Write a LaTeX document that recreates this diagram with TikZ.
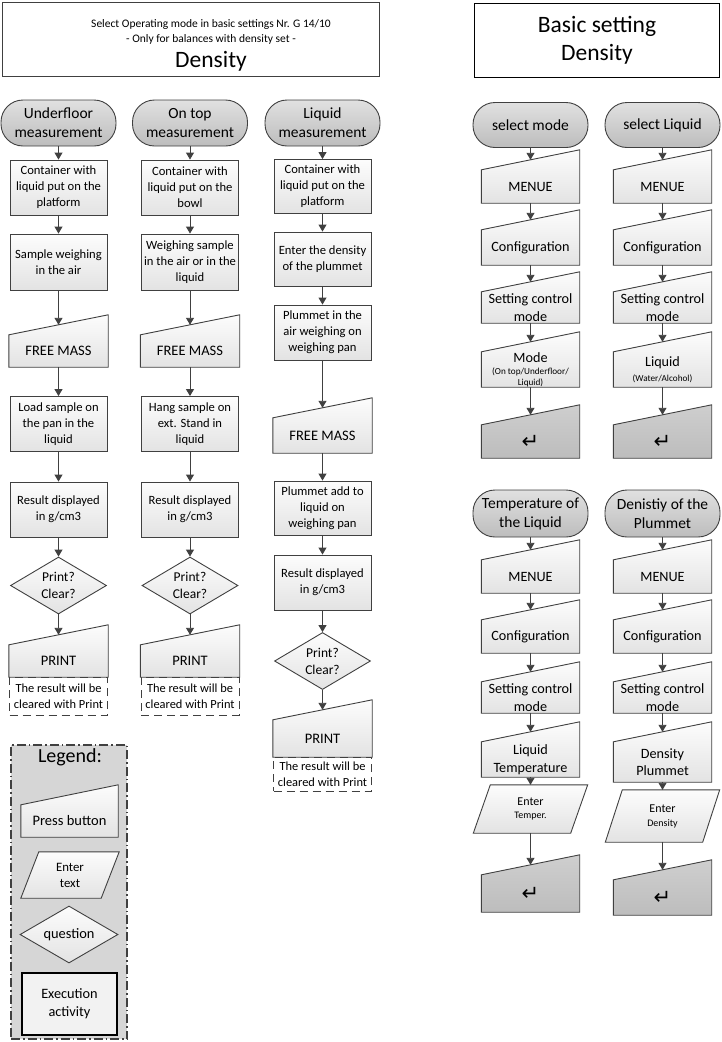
\documentclass[tikz,border=0pt]{standalone}
\usepackage{fontspec}
\setmainfont{Carlito}
\newfontfamily\symfont{DejaVu Sans}
\usetikzlibrary{shapes.geometric,arrows.meta,calc}
\pgfdeclarelayer{bgzero}
\pgfdeclarelayer{background}
\pgfsetlayers{bgzero,background,main}
\definecolor{lc}{HTML}{404040}
\newcommand\fsz[2]{\fontsize{#1}{#2}\selectfont}
\tikzset{
  outline/.style={draw=lc, line width=0.9pt},
  light/.style={top color=black!1, bottom color=black!11},
  dark/.style={top color=black!19, bottom color=black!26},
  termfill/.style={top color=black!12, bottom color=black!26},
  box/.style={outline, light, rectangle, minimum width=97, inner sep=1pt, align=center, font=\fsz{12.6}{16}},
  term/.style={outline, termfill, rectangle, rounded corners=22, minimum width=115, minimum height=46, inner sep=0pt, align=center, font=\fsz{15.5}{19}},
  man/.style={rectangle, minimum width=99, inner sep=0pt, align=center, font=\fsz{14.5}{17}},
  rman/.style={man, minimum width=98, font=\fsz{14.2}{17.5}},
  retsym/.style={font=\symfont\fsz{21}{22}},
  dec/.style={outline, light, diamond, aspect=1.7, minimum width=96, minimum height=57, inner sep=0pt, align=center, font=\fsz{13.5}{17}},
  note/.style={draw=lc, line width=0.9pt, dash pattern=on 8pt off 5pt, rectangle, minimum width=98, inner sep=0pt, align=center, font=\fsz{12.4}{16}},
  para/.style={rectangle, minimum width=97, inner sep=0pt, align=center},
  arr/.style={draw=lc, line width=0.9pt, -{Triangle[length=7pt,width=8pt]}},
}
\begin{document}
\begin{tikzpicture}[x=1pt,y=-1pt]
\useasboundingbox (0,0) rectangle (722,1042);
% headers
\node[draw=lc, line width=1.5pt, minimum width=377, minimum height=74, inner sep=0pt, align=center] (hdrL) at (191,39.5)
  {\fsz{11.5}{15}\hspace*{40pt}\rule{0pt}{20pt}Select Operating mode in basic settings Nr. G 14/10\\[3pt]
   \fsz{11.5}{15}\hspace*{40pt}- Only for balances with density set -\\[6pt]
   \fsz{23.5}{24}\hspace*{40pt}Density};
\node[draw=black, line width=1.8pt, minimum width=245, minimum height=74, inner sep=0pt, align=center, font=\fsz{23.5}{28}] (hdrR) at (597,40.5) {Basic setting\\Density};

% column 1
\node[term] (t1) at (58.5,123) {Underfloor\\measurement};
\node[box, minimum height=55] (c1a) at (58.5,187.5) {Container with\\liquid put on the\\platform};
\node[box, minimum height=56] (c1b) at (58.5,262) {Sample weighing\\in the air};
\node[man, minimum height=32] (c1fm) at (58.5,351) {FREE MASS};
\node[box, minimum height=55] (c1c) at (58.5,424) {Load sample on\\the pan in the\\liquid};
\node[box, minimum height=55] (c1d) at (58.5,509.5) {Result displayed\\in g/cm3};
\node[dec] (c1q) at (58.5,585.5) {Print?\\Clear?};
\node[man, minimum height=32] (c1p) at (58.5,661) {PRINT};
\node[note, minimum height=38] (c1n) at (58.5,696) {The result will be\\cleared with Print};

% column 2
\node[term] (t2) at (190,123) {On top\\measurement};
\node[box, minimum height=55] (c2a) at (190,187.5) {Container with\\liquid put on the\\bowl};
\node[box, minimum height=56] (c2b) at (190,262) {Weighing sample\\in the air or in the\\liquid};
\node[man, minimum height=32] (c2fm) at (190,351) {FREE MASS};
\node[box, minimum height=55] (c2c) at (190,424) {Hang sample on\\ext. Stand in\\liquid};
\node[box, minimum height=55] (c2d) at (190,509.5) {Result displayed\\in g/cm3};
\node[dec] (c2q) at (190,585.5) {Print?\\Clear?};
\node[man, minimum height=32] (c2p) at (190,661) {PRINT};
\node[note, minimum height=38] (c2n) at (190,696) {The result will be\\cleared with Print};

% column 3
\node[term] (t3) at (322.5,123) {Liquid\\measurement};
\node[box, minimum height=54] (c3a) at (322.5,186.5) {Container with\\liquid put on the\\platform};
\node[box, minimum height=54] (c3b) at (322.5,259) {Enter the density\\of the plummet};
\node[box, minimum height=55] (c3c) at (322.5,332.5) {Plummet in the\\air weighing on\\weighing pan};
\node[man, minimum height=35] (c3fm) at (322.5,435.5) {FREE MASS};
\node[box, minimum height=54] (c3d) at (322.5,508) {Plummet add to\\liquid on\\weighing pan};
\node[box, minimum height=55] (c3e) at (322.5,582.5) {Result displayed\\in g/cm3};
\node[dec] (c3q) at (322.5,661) {Print?\\Clear?};
\node[man, minimum height=37] (c3p) at (322.5,738.5) {PRINT};
\node[note, minimum height=34] (c3n) at (322.5,774) {The result will be\\cleared with Print};

% right upper A
\node[term, minimum height=45] (tA1) at (530.5,125) {select mode};
\node[rman, minimum height=33] (mA1) at (530.5,186.5) {MENUE};
\node[rman, minimum height=35] (mA2) at (530.5,247.5) {Configuration};
\node[rman, minimum height=31] (mA3) at (530.5,307.5) {Setting control\\mode};
\node[rman, minimum height=35] (mA4) at (530.5,369.5) {Mode\\[-5pt]\fsz{9.2}{10.5}(On top/Underfloor/\\[-7pt]\fsz{9.2}{10.5}Liquid)};
\node[rman, minimum height=33, retsym] (mA5) at (530.5,441.5) {↵};
% right upper B
\node[term, minimum height=45] (tB1) at (662.5,125) {select Liquid};
\node[rman, minimum height=33] (mB1) at (662.5,186.5) {MENUE};
\node[rman, minimum height=35] (mB2) at (662.5,247.5) {Configuration};
\node[rman, minimum height=31] (mB3) at (662.5,307.5) {Setting control\\mode};
\node[rman, minimum height=35] (mB4) at (662.5,369.5) {Liquid\\[-3pt]\fsz{9.2}{10.5}(Water/Alcohol)};
\node[rman, minimum height=33, retsym] (mB5) at (662.5,441.5) {↵};

% right lower A
\node[term, minimum height=47] (tA2) at (530.5,513.5) {Temperature of\\the Liquid};
\node[rman, minimum height=33] (mA6) at (530.5,576.5) {MENUE};
\node[rman, minimum height=33] (mA7) at (530.5,636.5) {Configuration};
\node[rman, minimum height=31] (mA8) at (530.5,697.5) {Setting control\\mode};
\node[rman, minimum height=35] (mA9) at (530.5,759.5) {Liquid\\Temperature};
\node[para, minimum height=48] (pA) at (530.5,809) {\fsz{12}{14}Enter\\[1pt]\fsz{10}{14}Temper.};
\node[rman, minimum height=37, retsym] (mA10) at (530.5,893.5) {↵};
% right lower B
\node[term, minimum height=47] (tB2) at (662.5,513.5) {Denistiy of the\\Plummet};
\node[rman, minimum height=33] (mB6) at (662.5,576.5) {MENUE};
\node[rman, minimum height=33] (mB7) at (662.5,636.5) {Configuration};
\node[rman, minimum height=31] (mB8) at (662.5,697.5) {Setting control\\mode};
\node[rman, minimum height=40] (mB9) at (662.5,762) {Density\\Plummet};
\node[para, minimum height=52] (pB) at (662.5,816) {\fsz{12}{14}Enter\\[2pt]\fsz{10}{14}Density};
\node[rman, minimum height=35, retsym] (mB10) at (662.5,897.5) {↵};

% legend
\begin{pgfonlayer}{bgzero}
\node[draw=lc, line width=1.2pt, fill=black!16, dash pattern=on 9pt off 3pt on 1.5pt off 3pt, minimum width=116, minimum height=294, inner sep=0pt] (lgbox) at (69,892) {};
\end{pgfonlayer}
\node[font=\fsz{20}{22}] (lgt) at (70,757) {Legend:};
\node[man, minimum width=97, minimum height=32] (lg1) at (69.5,821) {Press button};
\node[para, minimum width=80, minimum height=46, font=\fsz{12.8}{16}] (lg2) at (70,875) {Enter\\text};
\node[dec, minimum width=98, font=\fsz{14.4}{17}] (lg3) at (69,934.5) {question};
\node[draw=black, line width=2pt, fill=black!5, minimum width=95, minimum height=62, inner sep=0pt, align=center, font=\fsz{14.3}{17.5}] (lg4) at (69.5,1003.5) {Execution\\activity};

% special shapes on background
\begin{pgfonlayer}{background}
\foreach \n in {c1fm,c1p,c2fm,c2p,c3fm,c3p,mA1,mA2,mA3,mA4,mA6,mA7,mA8,mA9,mB1,mB2,mB3,mB4,mB6,mB7,mB8,mB9,lg1}
  \draw[outline, light] (\n.south west) -- (\n.north west) -- ([yshift=20pt]\n.north east) -- (\n.south east) -- cycle;
\foreach \n in {mA5,mA10,mB5,mB10}
  \draw[outline, dark] (\n.south west) -- (\n.north west) -- ([yshift=20pt]\n.north east) -- (\n.south east) -- cycle;
\foreach \n/\s in {pA/8.5,pB/8.5,lg2/9}
  \draw[outline, light] ([xshift=-\s]\n.south west) -- ([xshift=\s]\n.north west) -- ([xshift=\s]\n.north east) -- ([xshift=-\s]\n.south east) -- cycle;
\end{pgfonlayer}
\foreach \n in {c1fm,c1p,c2fm,c2p,c3fm,c3p,mA1,mA2,mA3,mA4,mA5,mA6,mA7,mA8,mA9,mA10,mB1,mB2,mB3,mB4,mB5,mB6,mB7,mB8,mB9,mB10}
  \coordinate (\n-in) at ([yshift=10pt]\n.north);

% connectors
\foreach \a/\b in {t1/c1a,c1a/c1b,c1b/c1fm-in,c1fm/c1c,c1c/c1d,c1d/c1q,c1q/c1p-in,
  t2/c2a,c2a/c2b,c2b/c2fm-in,c2fm/c2c,c2c/c2d,c2d/c2q,c2q/c2p-in,
  t3/c3a,c3a/c3b,c3b/c3c,c3c/c3fm-in,c3fm/c3d,c3d/c3e,c3e/c3q,c3q/c3p-in,
  tA1/mA1-in,mA1/mA2-in,mA2/mA3-in,mA3/mA4-in,mA4/mA5-in,
  tB1/mB1-in,mB1/mB2-in,mB2/mB3-in,mB3/mB4-in,mB4/mB5-in,
  tA2/mA6-in,mA6/mA7-in,mA7/mA8-in,mA8/mA9-in,mA9/pA,pA/mA10-in,
  tB2/mB6-in,mB6/mB7-in,mB7/mB8-in,mB8/mB9-in,mB9/pB,pB/mB10-in}
  \draw[arr] (\a) -- (\b);
\end{tikzpicture}
\end{document}
